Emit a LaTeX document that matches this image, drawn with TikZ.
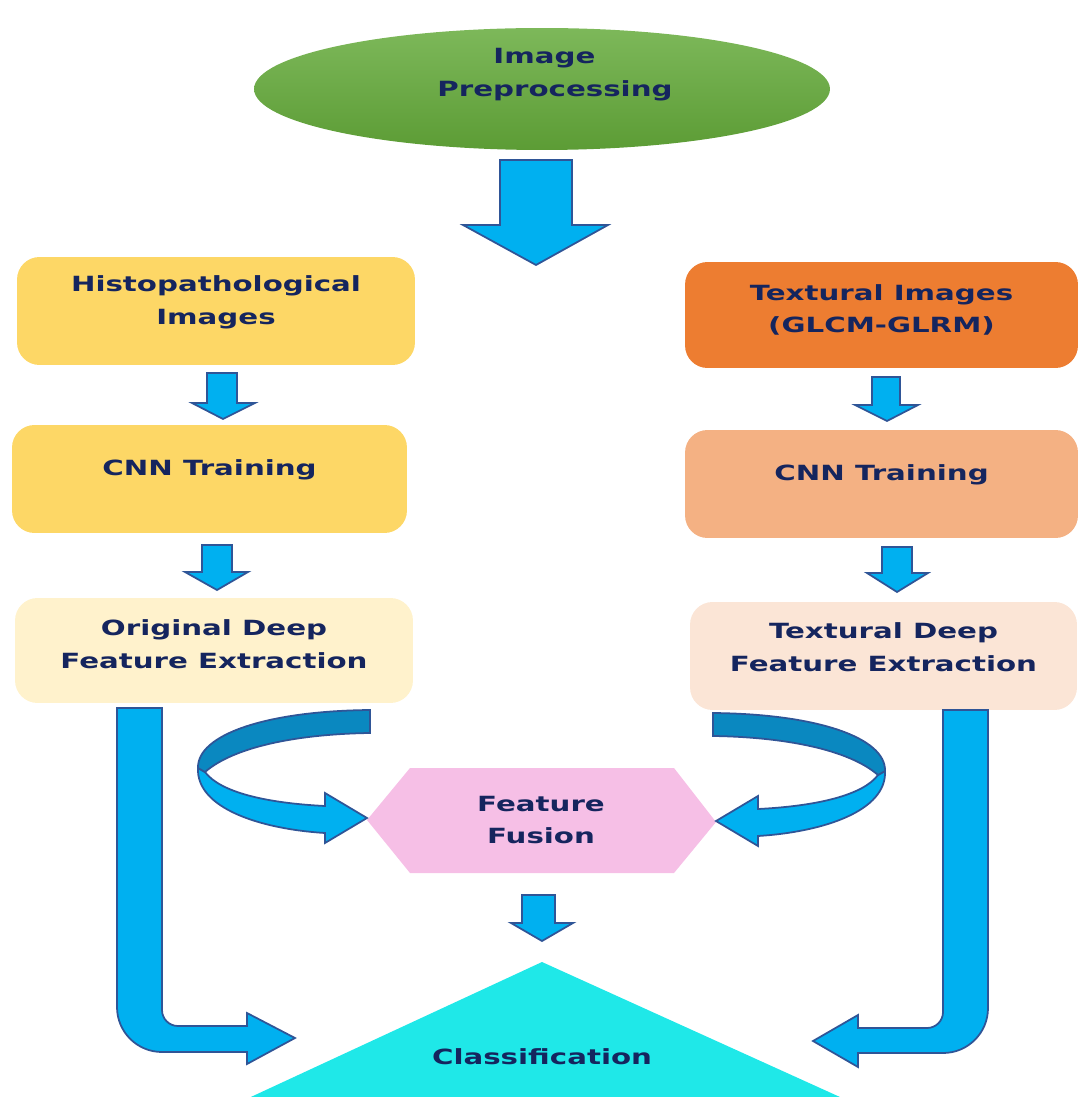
\documentclass[tikz,border=0pt]{standalone}
\usepackage{fontspec}
\setmainfont[FakeStretch=1.4]{DejaVu Sans}
\usetikzlibrary{shapes.geometric,calc}
\definecolor{txt}{HTML}{15255E}
\definecolor{grnT}{HTML}{7DB85A}
\definecolor{grnB}{HTML}{5C9C35}
\definecolor{yel}{HTML}{FDD766}
\definecolor{yelL}{HTML}{FFF2CC}
\definecolor{org}{HTML}{ED7D31}
\definecolor{orgM}{HTML}{F4B183}
\definecolor{orgL}{HTML}{FBE5D6}
\definecolor{pinkF}{HTML}{F6BFE6}
\definecolor{cyanF}{HTML}{1FE8E8}
\definecolor{arrF}{HTML}{00B0F0}
\definecolor{arrD}{HTML}{0A88C0}
\definecolor{arrL}{HTML}{2F5597}
\newcommand\blockdown[8]{\draw[barrow] (#1,#3) -- (#2,#3) -- (#2,#4) -- (#6,#4) -- (#7,#8) -- (#5,#4) -- (#1,#4) -- cycle;}
\newcommand\curvedarrowshape{%
  \draw[barrow] (198,768) .. controls (196,808) and (260,829) .. (325,833) -- (325,843) -- (367,818) -- (325,793) -- (325,806) .. controls (265,803) and (220,792) .. (205,772) -- cycle;
  \draw[barrow,fill=arrD] (370,710) .. controls (265,711) and (197,735) .. (198,768) -- (205,772) .. controls (235,746) and (300,734) .. (370,733) -- cycle;}
\begin{document}
\begin{tikzpicture}[x=0.02cm,y=-0.02cm,
  box/.style={rectangle, rounded corners=0.45cm, draw=none, minimum height=2.16cm},
  lbl/.style={font=\bfseries\fontsize{11.9}{18.7}\selectfont, text=txt, align=center, inner sep=0pt},
  barrow/.style={fill=arrF, draw=arrL, line width=1pt, line join=miter}]
\useasboundingbox (0,0) rectangle (1077,1097);
% top ellipse
\node[ellipse, top color=grnT, bottom color=grnB, minimum width=11.52cm, minimum height=2.44cm] (pre) at (542,89) {};
\node[lbl] (preT) at ($(pre)+(13,-14)$) {Image\hspace*{12pt}\\Preprocessing};
% boxes
\node[box, fill=yel, minimum width=7.96cm] (hist) at (216,311) {};
\node[lbl] (histT) at ($(hist)+(0,-9)$) {Histopathological\\Images};
\node[box, fill=yel, minimum width=7.9cm] (cnnL) at (209.5,479) {};
\node[lbl] (cnnLT) at ($(cnnL)+(0,-9)$) {CNN Training};
\node[box, fill=yelL, minimum width=7.96cm, minimum height=2.1cm] (orig) at (214,650.5) {};
\node[lbl] (origT) at ($(orig)+(0,-6)$) {Original Deep\\Feature Extraction};
\node[box, fill=org, minimum width=7.86cm, minimum height=2.12cm] (tex) at (881.5,315) {};
\node[lbl] (texT) at ($(tex)+(0,-5)$) {Textural Images\\(GLCM-GLRM)};
\node[box, fill=orgM, minimum width=7.86cm] (cnnR) at (881.5,484) {};
\node[lbl] (cnnRT) at ($(cnnR)+(0,-9)$) {CNN Training};
\node[box, fill=orgL, minimum width=7.74cm] (texd) at (883.5,656) {};
\node[lbl] (texdT) at ($(texd)+(0,-9)$) {Textural Deep\\Feature Extraction};
% fusion hexagon
\fill[pinkF] (367,820) -- (410,768) -- (674,768) -- (716,822) -- (674,873) -- (410,873) -- cycle;
\node[lbl] (fus) at (541,820) {Feature\\Fusion};
% classification triangle
\fill[cyanF] (542,962) -- (240,1102) -- (851,1102) -- cycle;
\node[lbl] (cls) at (542,1057) {Classification};
% straight block arrows
\blockdown{500}{572}{160}{225}{463}{608}{536}{265}
\blockdown{207}{237}{373}{403}{192}{255}{223}{419}
\blockdown{872}{900}{377}{405}{855}{918}{887}{421}
\blockdown{202}{232}{545}{572}{185}{248}{217}{590}
\blockdown{882}{912}{547}{573}{867}{928}{897}{592}
\blockdown{522}{555}{895}{923}{511}{573}{542}{941}
% curved arrows into fusion
\curvedarrowshape
\begin{scope}[shift={(1083,3)}, xscale=-1]
\curvedarrowshape
\end{scope}
% L-shaped arrows to classification
\draw[barrow] (117,708) -- (117,1007) to[out=-90,in=180] (162,1052) -- (247,1052) -- (247,1064) -- (295,1038) -- (247,1013) -- (247,1026) -- (178,1026) to[out=180,in=-90] (162,1010) -- (162,708) -- cycle;
\draw[barrow] (988,710) -- (988,1008) to[out=-90,in=0] (943,1053) -- (858,1053) -- (858,1067) -- (813,1041) -- (858,1015) -- (858,1028) -- (927,1028) to[out=0,in=-90] (943,1012) -- (943,710) -- cycle;
\end{tikzpicture}
\end{document}
